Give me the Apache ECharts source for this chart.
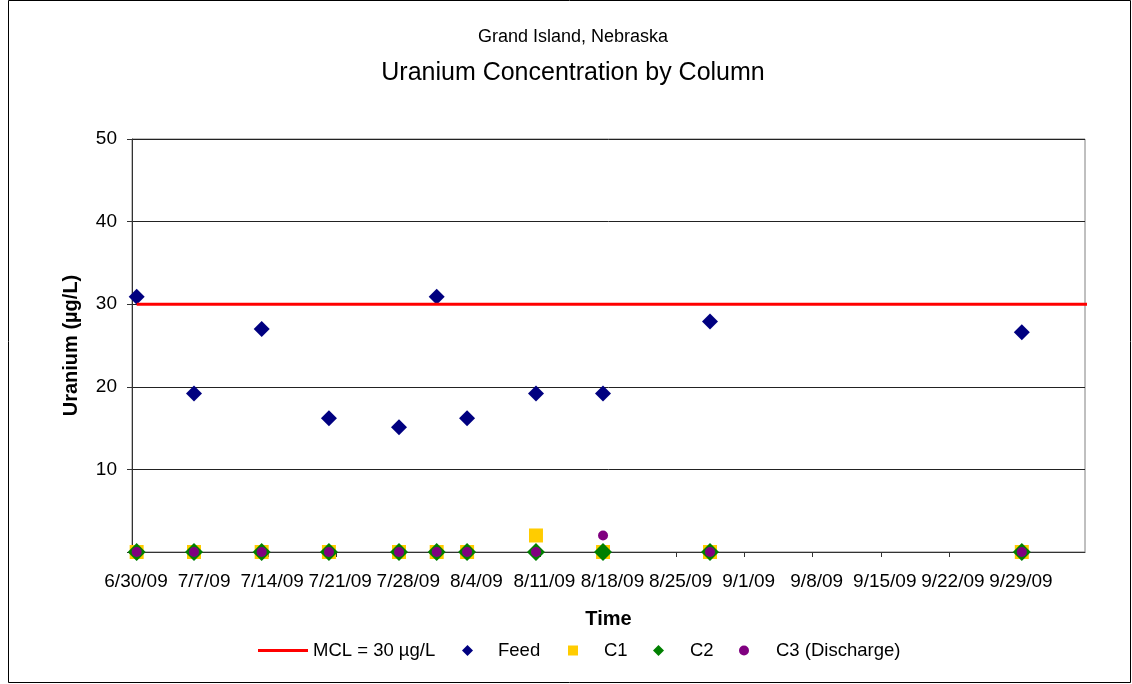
<!DOCTYPE html>
<html>
<head>
<meta charset="utf-8">
<title>Uranium Concentration by Column</title>
<script src="https://cdn.jsdelivr.net/npm/echarts@6.0.0/dist/echarts.min.js"></script>
<style>
html, body { margin: 0; padding: 0; background: #fff; }
#chart { width: 1132px; height: 684px; }
</style>
</head>
<body>
<div id="chart"></div>
<script>
// sampling times (local time)
var sampleTimes = ['2009-06-30T11:30', '2009-07-06T09:00', '2009-07-13T08:00', '2009-07-20T06:00',
    '2009-07-27T11:00', '2009-07-31T08:00', '2009-08-03T11:00', '2009-08-10T13:00',
    '2009-08-17T10:30', '2009-08-28T10:30', '2009-09-29T12:00'];
var feed = [30.9, 19.2, 27.0, 16.2, 15.1, 30.9, 16.2, 19.2, 19.2, 27.9, 26.6];
var c1 = [0, 0, 0, 0, 0, 0, 0, 2, 0, 0, 0];
var c2 = [0, 0, 0, 0, 0, 0, 0, 0, 0, 0, 0];
var c3 = [0, 0, 0, 0, 0, 0, 0, 0, 2, 0, 0];
// MCL reference line
var mclTimes = ['2009-06-30T11:30', '2009-10-07T02:00'];
var mclValues = [30, 30];
// axes
var axisStart = '2009-06-30T00:00';
var axisDays = 98;
var tickDays = 7;
var yMax = 50;
var yStep = 10;

var DAY = 86400000;
var t0 = new Date(axisStart).getTime();

function toDays(s) {
    return (new Date(s).getTime() - t0) / DAY;
}

function pairs(times, values) {
    var out = [];
    for (var i = 0; i < values.length; i++) {
        if (values[i] === null) continue;
        out.push([toDays(times[i]), values[i]]);
    }
    return out;
}

function dateLabel(v) {
    var d = new Date(t0 + Math.round(v) * DAY);
    return (d.getMonth() + 1) + '/' + d.getDate() + '/' + String(d.getFullYear()).slice(2);
}

var font = 'Liberation Sans, Arial, sans-serif';
var chartDom = document.getElementById('chart');
var myChart = echarts.init(chartDom, null, { renderer: 'canvas' });

// one legend per entry, so the spacing can follow the original
function legendAt(name, icon, left, w, h, textPad) {
    return {
        data: [{ name: name, icon: icon }],
        left: left,
        top: 641,
        padding: 0,
        itemWidth: w,
        itemHeight: h,
        itemGap: 0,
        selectedMode: false,
        textStyle: { color: '#000', fontSize: 18.5, fontFamily: font, padding: [0, 0, 0, textPad] }
    };
}

var option = {
    animation: false,
    backgroundColor: '#fff',
    title: [{
        text: 'Grand Island, Nebraska',
        left: 573,
        top: 37,
        padding: 0,
        textAlign: 'center',
        textVerticalAlign: 'middle',
        textStyle: { color: '#000', fontSize: 18, fontWeight: 'normal', fontFamily: font }
    }, {
        text: 'Uranium Concentration by Column',
        left: 573,
        top: 73,
        padding: 0,
        textAlign: 'center',
        textVerticalAlign: 'middle',
        textStyle: { color: '#000', fontSize: 25, fontWeight: 'normal', fontFamily: font }
    }],
    legend: [
        legendAt('MCL = 30 µg/L', 'rect', 258, 50, 3, 0),
        legendAt('Feed', 'diamond', 462, 11, 11, 20),
        legendAt('C1', 'rect', 568, 10, 10, 21),
        legendAt('C2', 'diamond', 653, 11, 11, 21),
        legendAt('C3 (Discharge)', 'circle', 739, 10, 10, 22)
    ],
    grid: {
        left: 132,
        right: 47,
        top: 139,
        bottom: 132,
        show: true,
        borderColor: '#808080',
        borderWidth: 1,
        outerBoundsMode: 'none'
    },
    xAxis: {
        type: 'value',
        min: 0,
        max: axisDays,
        interval: tickDays,
        name: 'Time',
        nameLocation: 'middle',
        nameGap: 57,
        nameTextStyle: { color: '#000', fontSize: 20, fontWeight: 'bold', fontFamily: font },
        axisLine: { show: true, onZero: false, lineStyle: { color: '#333', width: 1 } },
        axisTick: { show: true, inside: false, length: 5, lineStyle: { color: '#333' } },
        axisLabel: {
            color: '#000', fontSize: 19, fontFamily: font, margin: 20,
            padding: [0, 0, 0, 8],
            showMinLabel: true, showMaxLabel: false,
            formatter: dateLabel
        },
        splitLine: { show: false }
    },
    yAxis: {
        type: 'value',
        min: 0,
        max: yMax,
        interval: yStep,
        name: 'Uranium (µg/L)',
        nameLocation: 'middle',
        nameGap: 51,
        nameTextStyle: { color: '#000', fontSize: 20, fontWeight: 'bold', fontFamily: font },
        axisLine: { show: true, lineStyle: { color: '#333', width: 1 } },
        axisTick: { show: true, inside: false, length: 5, lineStyle: { color: '#333' } },
        axisLabel: {
            color: '#000', fontSize: 19, fontFamily: font, margin: 15,
            formatter: function (v) { return v === 0 ? '' : String(v); }
        },
        splitLine: { show: true, lineStyle: { color: '#222', width: 1 } }
    },
    series: [{
        name: 'MCL = 30 µg/L',
        type: 'line',
        symbol: 'none',
        clip: false,
        lineStyle: { color: '#FF0000', width: 3 },
        itemStyle: { color: '#FF0000', opacity: 1 },
        data: pairs(mclTimes, mclValues)
    }, {
        name: 'Feed',
        type: 'scatter',
        symbol: 'diamond',
        symbolSize: 16,
        itemStyle: { color: '#000080', opacity: 1 },
        data: pairs(sampleTimes, feed)
    }, {
        name: 'C1',
        type: 'scatter',
        symbol: 'rect',
        symbolSize: 14,
        itemStyle: { color: '#FFCC00', opacity: 1 },
        data: pairs(sampleTimes, c1)
    }, {
        name: 'C2',
        type: 'scatter',
        symbol: 'diamond',
        symbolSize: 18,
        itemStyle: { color: '#008000', opacity: 1 },
        data: pairs(sampleTimes, c2)
    }, {
        name: 'C3 (Discharge)',
        type: 'scatter',
        symbol: 'circle',
        symbolSize: 10,
        itemStyle: { color: '#800080', opacity: 1 },
        data: pairs(sampleTimes, c3)
    }],
    graphic: [{
        type: 'rect',
        silent: true,
        shape: { x: 8.5, y: 0.5, width: 1122, height: 682 },
        style: { fill: 'none', stroke: '#000', lineWidth: 1 }
    }]
};

option && myChart.setOption(option);
</script>
</body>
</html>
